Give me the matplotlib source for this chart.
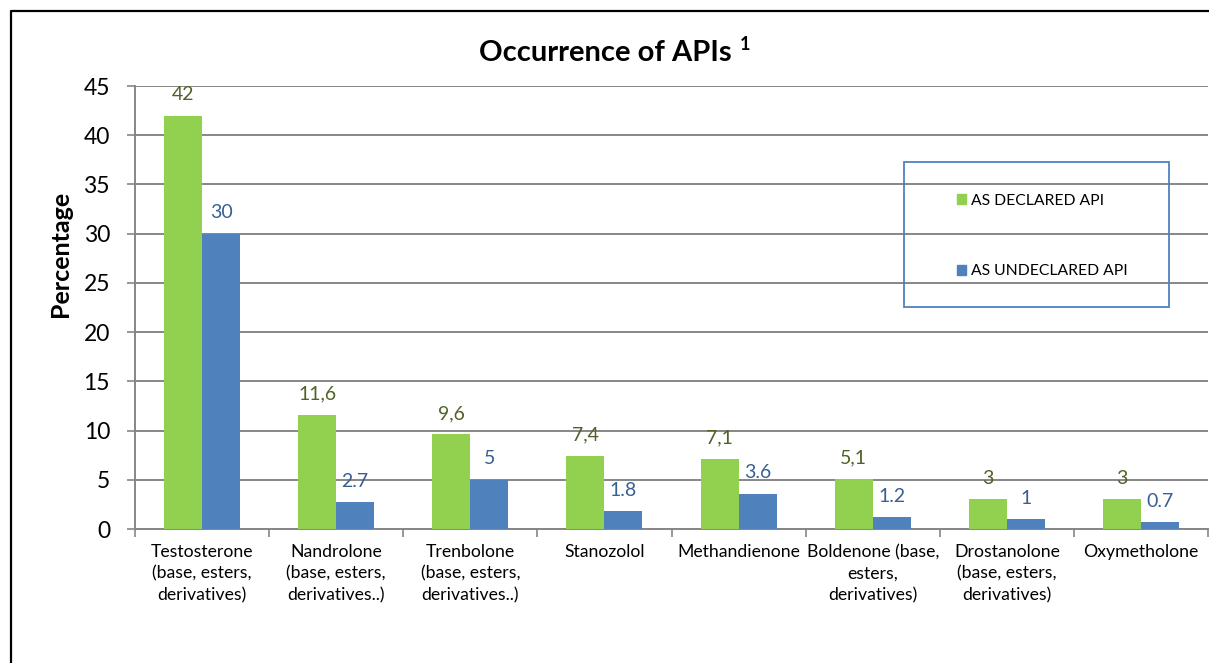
import matplotlib
matplotlib.use("Agg")
import matplotlib.pyplot as plt
from matplotlib.patches import Rectangle, Patch
from matplotlib.lines import Line2D
import numpy as np

plt.rcParams['font.family'] = ['Lato', 'DejaVu Sans']

categories = ["Testosterone\n(base, esters,\nderivatives)",
              "Nandrolone\n(base, esters,\nderivatives..)",
              "Trenbolone\n(base, esters,\nderivatives..)",
              "Stanozolol",
              "Methandienone",
              "Boldenone (base,\nesters,\nderivatives)",
              "Drostanolone\n(base, esters,\nderivatives)",
              "Oxymetholone"]
declared = [42, 11.6, 9.6, 7.4, 7.1, 5.1, 3, 3]
undeclared = [30, 2.7, 5, 1.8, 3.6, 1.2, 1, 0.7]
declared_labels = ["42", "11,6", "9,6", "7,4", "7,1", "5,1", "3", "3"]
undeclared_labels = ["30", "2.7", "5", "1.8", "3.6", "1.2", "1", "0.7"]
yticks = [0, 5, 10, 15, 20, 25, 30, 35, 40, 45]

GREEN = '#92D050'
BLUE = '#4F81BD'
GREEN_TXT = '#4F6228'
BLUE_TXT = '#376092'
GRID = '#868686'

W, H = 1209, 663
fig = plt.figure(figsize=(W / 100, H / 100), dpi=100)
ax = fig.add_axes([135 / W, 1 - 529 / H, (1208 - 135) / W, (529 - 86) / H])

x = np.arange(len(categories))
bw = 0.283
b1 = ax.bar(x - bw / 2, declared, bw, color=GREEN, label='AS DECLARED API', zorder=3)
b2 = ax.bar(x + bw / 2, undeclared, bw, color=BLUE, label='AS UNDECLARED API', zorder=3)

for rect, lab in zip(b1, declared_labels):
    ax.annotate(lab, (rect.get_x() + rect.get_width() / 2, rect.get_height()),
                xytext=(0, 9), textcoords='offset points', ha='center', va='bottom',
                fontsize=14, color=GREEN_TXT)
for rect, lab in zip(b2, undeclared_labels):
    ax.annotate(lab, (rect.get_x() + rect.get_width() / 2, rect.get_height()),
                xytext=(0, 9), textcoords='offset points', ha='center', va='bottom',
                fontsize=14, color=BLUE_TXT)

ax.set_xlim(-0.5, len(categories) - 0.5)
ax.set_ylim(0, 45)
ax.set_yticks(yticks)
ax.tick_params(axis='y', labelsize=16.5, length=6, width=1.2, color=GRID, pad=12,
               labelcolor='black')
ax.set_xticks(x)
ax.set_xticklabels(categories, fontsize=12.7, linespacing=1.42)
ax.tick_params(axis='x', length=0, pad=11)
ax.set_xticks(np.arange(len(categories) + 1) - 0.5, minor=True)
ax.tick_params(axis='x', which='minor', length=6, width=1.2, color=GRID)

ax.yaxis.grid(True, color=GRID, linewidth=1.4, zorder=0)
ax.set_axisbelow(True)
for s in ['top', 'right']:
    ax.spines[s].set_visible(False)
for s in ['left', 'bottom']:
    ax.spines[s].set_color(GRID)
    ax.spines[s].set_linewidth(1.4)

ax.set_ylabel('Percentage', fontsize=18, fontweight='bold')
ax.yaxis.set_label_coords((61 - 135) / (1208 - 135), (529 - 254) / (529 - 86))
ax.yaxis.label.set_va('center')

fig.text(605 / W, 1 - 53 / H, 'Occurrence of APIs', ha='center', va='center',
         fontsize=21, fontweight='bold')
fig.text(740 / W, 1 - 44 / H, '1', ha='left', va='center',
         fontsize=13, fontweight='bold')

handles = [Patch(color=GREEN), Patch(color=BLUE)]
leg = ax.legend(handles, ['AS DECLARED API', 'AS UNDECLARED API'],
                loc='upper left', bbox_to_anchor=(949 / W, 1 - 186 / H),
                bbox_transform=fig.transFigure, frameon=False, fontsize=11.3,
                handlelength=0.6, handleheight=0.6, handletextpad=0.3,
                labelspacing=3.6, borderpad=0)
fig.add_artist(Rectangle((904 / W, 1 - 307 / H), (1169 - 904) / W, (307 - 162) / H,
                         transform=fig.transFigure, fill=False, edgecolor=BLUE,
                         linewidth=1.3))

fig.add_artist(Line2D([10.5 / W, 10.5 / W, 1.01], [-0.01, 1 - 11 / H, 1 - 11 / H],
                      transform=fig.transFigure, color='black', linewidth=1.6))

fig.savefig('out.png', dpi=100)
